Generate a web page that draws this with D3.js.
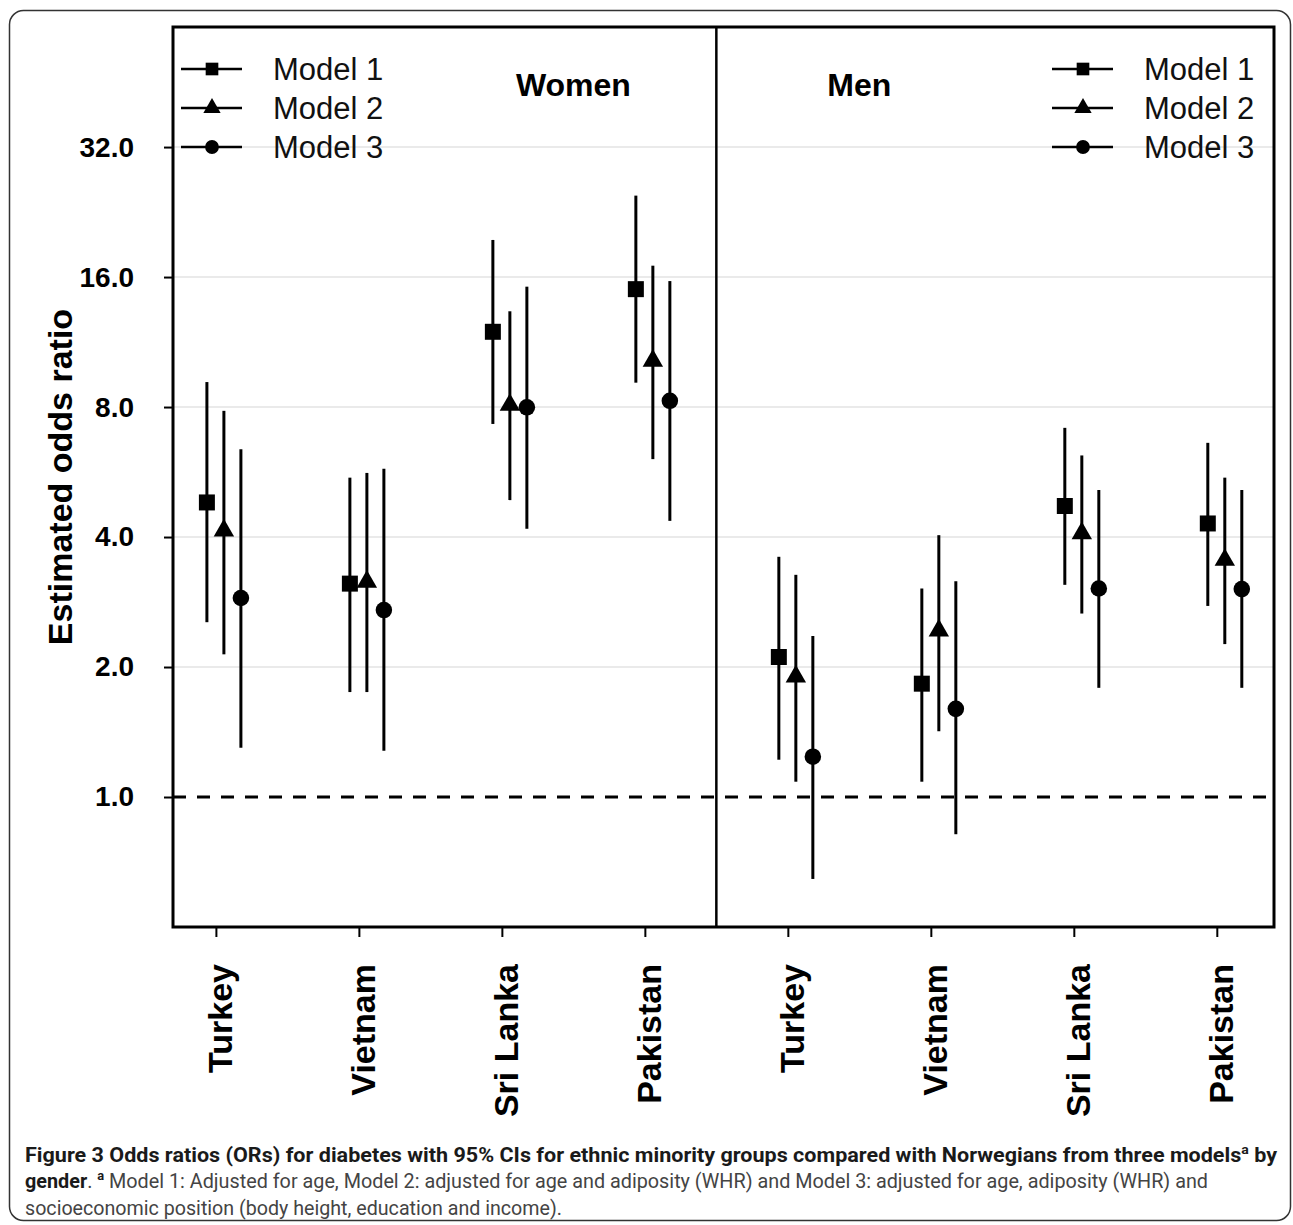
<!DOCTYPE html>
<html>
<head>
<meta charset="utf-8">
<script src="https://cdn.jsdelivr.net/npm/d3@7"></script>
<style>
  body { margin: 0; background: #fff; }
</style>
</head>
<body>
<div id="chart"></div>
<script>
// Categories and series
var countries = ["Turkey", "Vietnam", "Sri Lanka", "Pakistan"];
var genders = ["Women", "Men"];
var models = ["Model 1", "Model 2", "Model 3"];
var yTicks = [1, 2, 4, 8, 16, 32];

// Odds ratios, one row per model, columns follow countries
var womenOR = [[4.81, 3.12, 11.95, 15.0], [4.14, 3.15, 8.09, 10.24], [2.89, 2.71, 7.99, 8.27]];
var womenLo = [[2.54, 1.75, 7.31, 9.11], [2.14, 1.75, 4.87, 6.06], [1.30, 1.28, 4.18, 4.36]];
var womenHi = [[9.14, 5.49, 19.5, 24.7], [7.84, 5.63, 13.33, 17.0], [6.39, 5.76, 15.2, 15.66]];
var menOR = [[2.11, 1.83, 4.72, 4.30], [1.90, 2.43, 4.08, 3.54], [1.24, 1.60, 3.04, 3.03]];
var menLo = [[1.22, 1.085, 3.10, 2.77], [1.085, 1.42, 2.66, 2.26], [0.646, 0.82, 1.79, 1.79]];
var menHi = [[3.60, 3.04, 7.16, 6.61], [3.27, 4.04, 6.18, 5.49], [2.36, 3.16, 5.14, 5.14]];

var width = 1293, height = 1225;
var plot = { left: 173, right: 1274, top: 27, bottom: 927 };

var svg = d3.select("#chart").append("svg")
    .attr("width", width)
    .attr("height", height)
    .style("font-family", "Arial, 'Liberation Sans', sans-serif");

// Outer rounded frame
svg.append("rect")
    .attr("x", 9.5).attr("y", 10.5)
    .attr("width", 1281).attr("height", 1210)
    .attr("rx", 14)
    .attr("fill", "none")
    .attr("stroke", "#333")
    .attr("stroke-width", 1.5);

// Scales
var x = d3.scaleLinear().domain([-0.3, 7.4]).range([plot.left, plot.right]);
var y = d3.scaleLog().base(2).domain([0.5, 60.7]).range([plot.bottom, plot.top]);

var offsets = [-9, 8, 25];
var symbols = [d3.symbolSquare, d3.symbolTriangle, d3.symbolCircle];
var sizes = [256, 180, 215];
var legendSizes = [160, 130, 150];

// Flatten into points
var points = [];
[[womenOR, womenLo, womenHi], [menOR, menLo, menHi]].forEach(function (s, g) {
    models.forEach(function (m, mi) {
        countries.forEach(function (c, ci) {
            points.push({ pos: g * 4 + ci, model: mi, or: s[0][mi][ci], lo: s[1][mi][ci], hi: s[2][mi][ci] });
        });
    });
});

// Grid lines
svg.append("g").selectAll("line")
    .data(yTicks.filter(function (d) { return d !== 1; }))
    .join("line")
    .attr("x1", plot.left).attr("x2", plot.right)
    .attr("y1", function (d) { return y(d); })
    .attr("y2", function (d) { return y(d); })
    .attr("stroke", "#e3e3e3")
    .attr("stroke-width", 1.5);

// Reference line at OR = 1
svg.append("line")
    .attr("x1", plot.left).attr("x2", plot.right)
    .attr("y1", y(1)).attr("y2", y(1))
    .attr("stroke", "#000")
    .attr("stroke-width", 3)
    .attr("stroke-dasharray", "13,11");

// Error bars
svg.append("g").selectAll("line")
    .data(points)
    .join("line")
    .attr("x1", function (d) { return x(d.pos) + offsets[d.model]; })
    .attr("x2", function (d) { return x(d.pos) + offsets[d.model]; })
    .attr("y1", function (d) { return y(d.lo); })
    .attr("y2", function (d) { return y(d.hi); })
    .attr("stroke", "#000")
    .attr("stroke-width", 3);

// Point markers
svg.append("g").selectAll("path")
    .data(points)
    .join("path")
    .attr("transform", function (d) { return "translate(" + (x(d.pos) + offsets[d.model]) + "," + y(d.or) + ")"; })
    .attr("d", function (d) { return d3.symbol().type(symbols[d.model]).size(sizes[d.model])(); })
    .attr("fill", "#000");

// Plot frame and gender divider
svg.append("rect")
    .attr("x", plot.left).attr("y", plot.top)
    .attr("width", plot.right - plot.left)
    .attr("height", plot.bottom - plot.top)
    .attr("fill", "none")
    .attr("stroke", "#000")
    .attr("stroke-width", 3);

svg.append("line")
    .attr("x1", x(3.5)).attr("x2", x(3.5))
    .attr("y1", plot.top).attr("y2", plot.bottom)
    .attr("stroke", "#000")
    .attr("stroke-width", 2.5);

// Y axis
var yAxis = svg.append("g")
    .attr("transform", "translate(" + plot.left + ",0)")
    .call(d3.axisLeft(y).tickValues(yTicks).tickFormat(d3.format(".1f")).tickSize(9).tickPadding(30));
yAxis.select(".domain").remove();
yAxis.selectAll(".tick line").attr("stroke-width", 2);
yAxis.selectAll("text")
    .attr("font-size", 28)
    .attr("font-weight", "bold")
    .attr("fill", "#000")
    .attr("font-family", "Arial, 'Liberation Sans', sans-serif");

svg.append("text")
    .attr("transform", "translate(72,477) rotate(-90)")
    .attr("text-anchor", "middle")
    .attr("font-size", 34)
    .attr("font-weight", "bold")
    .text("Estimated odds ratio");

// X axis
var xAxis = svg.append("g")
    .attr("transform", "translate(0," + plot.bottom + ")")
    .call(d3.axisBottom(x).tickValues(d3.range(8)).tickSize(10).tickFormat(""));
xAxis.select(".domain").remove();
xAxis.selectAll(".tick line").attr("stroke-width", 2);

svg.append("g").selectAll("text")
    .data(d3.range(8))
    .join("text")
    .attr("transform", function (i) { return "translate(" + (x(i) + 16) + ",964) rotate(-90)"; })
    .attr("text-anchor", "end")
    .attr("font-size", 34)
    .attr("font-weight", "bold")
    .text(function (i) { return countries[i % 4]; });

// Panel titles
svg.append("g").selectAll("text")
    .data(genders)
    .join("text")
    .attr("x", function (d, i) { return x(i === 0 ? 2.5 : 4.5); })
    .attr("y", 96)
    .attr("text-anchor", "middle")
    .attr("font-size", 32)
    .attr("font-weight", "bold")
    .text(function (d) { return d; });

// Legends, one in each panel
[181, 1052].forEach(function (lx) {
    var lg = svg.append("g").attr("transform", "translate(" + lx + ",0)");
    var rows = lg.selectAll("g")
        .data(models)
        .join("g")
        .attr("transform", function (d, i) { return "translate(0," + (69 + i * 39) + ")"; });
    rows.append("line")
        .attr("x1", 0).attr("x2", 61)
        .attr("stroke", "#000")
        .attr("stroke-width", 2.5);
    rows.append("path")
        .attr("transform", "translate(31,0)")
        .attr("d", function (d, i) { return d3.symbol().type(symbols[i]).size(legendSizes[i])(); })
        .attr("fill", "#000");
    rows.append("text")
        .attr("x", 92)
        .attr("y", 11)
        .attr("font-size", 31)
        .attr("fill", "#111")
        .text(function (d) { return d; });
});

// Caption
var capFont = "'Liberation Sans Narrow', 'Roboto', 'Noto Sans', sans-serif";
var cap1 = svg.append("text")
    .attr("x", 25).attr("y", 1162)
    .attr("font-size", 20)
    .attr("font-family", capFont)
    .attr("textLength", 1252)
    .attr("lengthAdjust", "spacingAndGlyphs");
cap1.append("tspan").attr("font-weight", "bold").attr("fill", "#1a1a1a")
    .text("Figure 3 Odds ratios (ORs) for diabetes with 95% CIs for ethnic minority groups compared with Norwegians from three models");
cap1.append("tspan").attr("font-weight", "bold").attr("fill", "#1a1a1a")
    .attr("font-size", 13).attr("dy", -8).text("a");
cap1.append("tspan").attr("font-weight", "bold").attr("fill", "#1a1a1a")
    .attr("dy", 8).text(" by");

var cap2 = svg.append("text")
    .attr("x", 25).attr("y", 1188)
    .attr("font-size", 20)
    .attr("font-family", capFont)
    .attr("textLength", 1183)
    .attr("lengthAdjust", "spacingAndGlyphs");
cap2.append("tspan").attr("font-weight", "bold").attr("fill", "#1a1a1a").text("gender");
cap2.append("tspan").attr("fill", "#444").text(". ");
cap2.append("tspan").attr("font-weight", "bold").attr("fill", "#1a1a1a")
    .attr("font-size", 13).attr("dy", -8).text("a");
cap2.append("tspan").attr("fill", "#444").attr("dy", 8)
    .text(" Model 1: Adjusted for age, Model 2: adjusted for age and adiposity (WHR) and Model 3: adjusted for age, adiposity (WHR) and");

svg.append("text")
    .attr("x", 25).attr("y", 1215)
    .attr("font-size", 20)
    .attr("font-family", capFont)
    .attr("fill", "#444")
    .attr("textLength", 537)
    .attr("lengthAdjust", "spacingAndGlyphs")
    .text("socioeconomic position (body height, education and income).");
</script>
</body>
</html>
